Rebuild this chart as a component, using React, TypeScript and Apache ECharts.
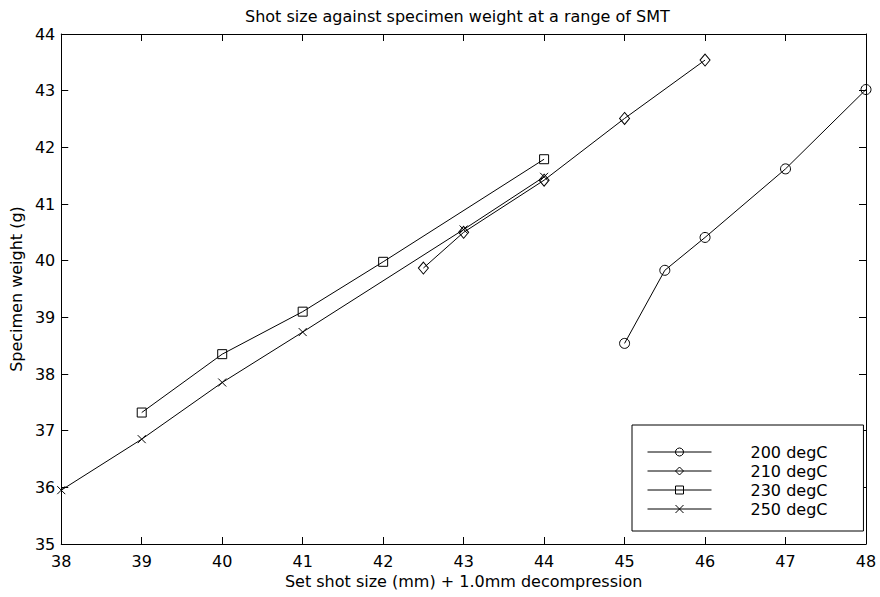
import React, { useEffect, useRef } from "react";
import * as echarts from "echarts";

const titleText = "Shot size against specimen weight at a range of SMT";
const xAxisName = "Set shot size (mm) + 1.0mm decompression";
const yAxisName = "Specimen weight (g)";

const seriesNames = ["200 degC", "210 degC", "230 degC", "250 degC"];

const x200 = [45, 45.5, 46, 47, 48];
const y200 = [38.54, 39.83, 40.41, 41.62, 43.02];

const x210 = [42.5, 43, 44, 45, 46];
const y210 = [39.87, 40.5, 41.42, 42.51, 43.54];

const x230 = [39, 40, 41, 42, 44];
const y230 = [37.32, 38.35, 39.1, 39.98, 41.79];

const x250 = [38, 39, 40, 41, 43, 44];
const y250 = [35.95, 36.85, 37.85, 38.74, 40.55, 41.48];

const xMin = 38;
const xMax = 48;
const yMin = 35;
const yMax = 44;

const FONT = "DejaVu Sans";

function pairs(xs: number[], ys: number[]) {
  return xs.map((x, i) => [x, ys[i]]);
}

const markerStyle = {
  color: "transparent",
  borderColor: "#000",
  borderWidth: 1,
};

export default function App() {
  const ref = useRef<HTMLDivElement>(null);

  useEffect(() => {
    if (!ref.current) return;
    const chart = echarts.init(ref.current, null, { renderer: "svg" });

    const axisCommon = {
      type: "value",
      interval: 1,
      axisLine: { show: true, onZero: false, lineStyle: { color: "#000", width: 1 } },
      axisTick: { show: true, inside: true, length: 7, lineStyle: { color: "#000", width: 1 } },
      splitLine: { show: false },
    };

    const mkSeries = (name: string, data: number[][], symbol: string, size: any) => ({
      name,
      type: "line",
      data,
      symbol,
      symbolSize: size,
      showSymbol: true,
      lineStyle: { color: "#000", width: 1 },
      itemStyle: markerStyle,
      emphasis: { disabled: true },
      z: 3,
    });

    chart.setOption({
      animation: false,
      backgroundColor: "#fff",
      textStyle: { fontFamily: FONT, color: "#000" },
      title: {
        text: titleText,
        left: 240,
        top: 3,
        textStyle: { fontFamily: FONT, fontSize: 16, fontWeight: "normal", color: "#000" },
      },
      grid: { left: 61, right: 14, top: 34, bottom: 53, containLabel: false },
      xAxis: [
        {
          ...axisCommon,
          min: xMin,
          max: xMax,
          position: "bottom",
          name: xAxisName,
          nameLocation: "middle",
          nameGap: 26,
          nameTextStyle: { fontFamily: FONT, fontSize: 16, color: "#000" },
          axisLabel: { fontFamily: FONT, fontSize: 16, color: "#000", margin: 9 },
        },
        {
          ...axisCommon,
          min: xMin,
          max: xMax,
          position: "top",
          axisLabel: { show: false },
        },
      ],
      yAxis: [
        {
          ...axisCommon,
          min: yMin,
          max: yMax,
          position: "left",
          name: yAxisName,
          nameLocation: "middle",
          nameGap: 34,
          nameTextStyle: { fontFamily: FONT, fontSize: 16, color: "#000" },
          axisLabel: { fontFamily: FONT, fontSize: 16, color: "#000", margin: 6 },
        },
        {
          ...axisCommon,
          min: yMin,
          max: yMax,
          position: "right",
          axisLabel: { show: false },
        },
      ],
      legend: {
        orient: "vertical",
        left: 632,
        top: 425,
        padding: [19, 36, 14, 15],
        itemWidth: 64,
        itemHeight: 10,
        itemGap: 3,
        backgroundColor: "#fff",
        borderColor: "#000",
        borderWidth: 1,
        borderRadius: 0,
        itemStyle: { color: "transparent", borderColor: "#000", borderWidth: 1 },
        lineStyle: { color: "#000", width: 1 },
        textStyle: { fontFamily: FONT, fontSize: 16, color: "#000", padding: [0, 0, 0, 34] },
        data: seriesNames,
      },
      series: [
        mkSeries(seriesNames[0], pairs(x200, y200), "circle", 10),
        mkSeries(seriesNames[1], pairs(x210, y210), "diamond", [10, 12]),
        mkSeries(seriesNames[2], pairs(x230, y230), "rect", 9),
        mkSeries(seriesNames[3], pairs(x250, y250), "path://M0,0L10,10M10,0L0,10", 8),
      ],
    });

    return () => {
      chart.dispose();
    };
  }, []);

  return (
    <div
      ref={ref}
      style={{ position: "fixed", left: 0, top: 0, width: 880, height: 597, background: "#fff" }}
    />
  );
}
